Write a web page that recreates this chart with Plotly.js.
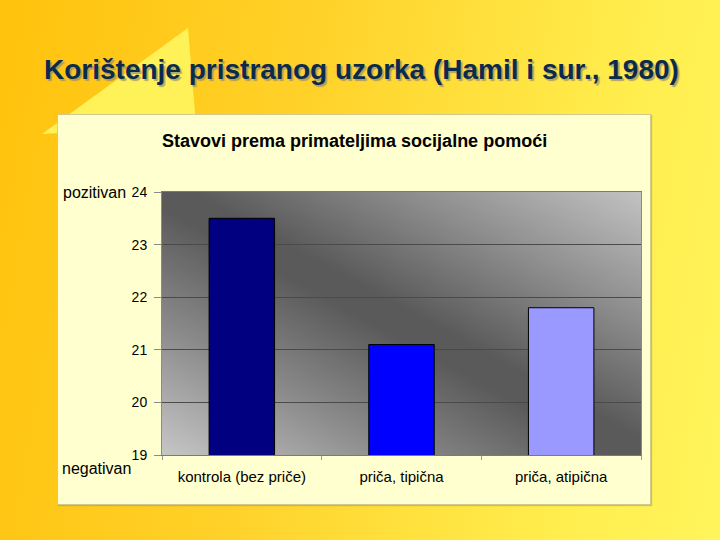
<!DOCTYPE html>
<html>
<head>
<meta charset="utf-8">
<script src="https://cdn.plot.ly/plotly-3.0.1.min.js"></script>
<style>
  html, body { margin: 0; padding: 0; width: 720px; height: 540px; overflow: hidden; }
  body { position: relative; background: linear-gradient(100deg, #FFC20C 0%, #FFD22A 40%, #FFEE4E 80%, #FFF45C 100%); }
  #tri { position: absolute; left: 0; top: 0; width: 720px; height: 540px; z-index: 1; }
  #box { position: absolute; left: 57px; top: 114px; width: 592px; height: 389px;
         background: #FFFFCF; border: 1px solid #D2C98E; box-shadow: 1px 1px 1px rgba(170,140,0,0.45); z-index: 2; }
  #plotbg { position: absolute; left: 162px; top: 192px; width: 479px; height: 263px; z-index: 3;
            background: linear-gradient(to top right, #c6c6c6 0%, #8a8a8a 25%, #5a5a5a 47%, #5a5a5a 53%, #8c8c8c 75%, #c2c2c2 100%); }
  #chart { position: absolute; left: 0; top: 0; width: 720px; height: 540px; z-index: 4; }
</style>
</head>
<body>
<svg id="tri" viewBox="0 0 720 540"><polygon points="42,134 188,28 196,125" fill="#FFF35C" fill-opacity="0.95"/></svg>
<div id="box"></div>
<div id="plotbg"></div>
<div id="chart"></div>
<script>
const categories = ["kontrola (bez priče)", "priča, tipična", "priča, atipična"];
const values = [23.5, 21.1, 21.8];
const barColors = ["#000080", "#0000FF", "#9999FF"];
const yTicks = [19, 20, 21, 22, 23, 24];

const L = 162, R = 641, T = 192, B = 455;
const W = R - L, H = B - T;
const px = x => (x - L) / W;
const py = y => (B - y) / H;
const font = "Liberation Sans, Arial, sans-serif";

const trace = {
  type: "bar",
  x: categories,
  y: values,
  marker: { color: barColors, line: { color: "#000000", width: 1 } },
  hoverinfo: "x+y"
};

const layout = {
  width: 720, height: 540,
  margin: { l: L, r: 720 - R, t: T, b: 540 - B, pad: 0 },
  paper_bgcolor: "rgba(0,0,0,0)",
  plot_bgcolor: "rgba(0,0,0,0)",
  showlegend: false,
  bargap: 0.59,
  font: { family: font, color: "#000000" },
  xaxis: {
    type: "category",
    showgrid: false,
    showline: true, linecolor: "#7a7a7a", linewidth: 1, mirror: true,
    ticks: "outside", tickson: "boundaries", ticklen: 4, tickcolor: "#9a9a9a",
    tickfont: { family: font, size: 15, color: "#000000" },
    ticklabelstandoff: 8,
    fixedrange: true
  },
  yaxis: {
    range: [19, 24],
    tickvals: yTicks,
    ticktext: yTicks.map(String),
    showgrid: true, gridcolor: "#4a4a4a", gridwidth: 1,
    showline: true, linecolor: "#8a8a8a", linewidth: 1, mirror: true,
    ticks: "outside", ticklen: 7, tickcolor: "#8a8a8a",
    tickfont: { family: font, size: 14, color: "#000000" },
    ticklabelstandoff: 4,
    zeroline: false,
    fixedrange: true
  },
  annotations: [
    { text: "<b>Korištenje pristranog uzorka (Hamil i sur., 1980)</b>",
      xref: "paper", yref: "paper", x: px(361.5), y: py(69), xanchor: "center", yanchor: "middle",
      showarrow: false,
      font: { family: font, size: 28, color: "#0B2B4D", shadow: "2px 2px 1px rgba(150,140,110,0.75)" } },
    { text: "<b>Stavovi prema primateljima socijalne pomoći</b>",
      xref: "paper", yref: "paper", x: px(354), y: py(141), xanchor: "center", yanchor: "middle",
      showarrow: false, font: { family: font, size: 18, color: "#000000" } },
    { text: "pozitivan", xref: "paper", yref: "paper", x: px(128), y: py(192),
      xanchor: "right", yanchor: "middle", showarrow: false,
      font: { family: font, size: 16, color: "#000000" } },
    { text: "negativan", xref: "paper", yref: "paper", x: px(133), y: py(468),
      xanchor: "right", yanchor: "middle", showarrow: false,
      font: { family: font, size: 16, color: "#000000" } }
  ]
};

Plotly.newPlot("chart", [trace], layout, { displayModeBar: false, staticPlot: true });
</script>
</body>
</html>
